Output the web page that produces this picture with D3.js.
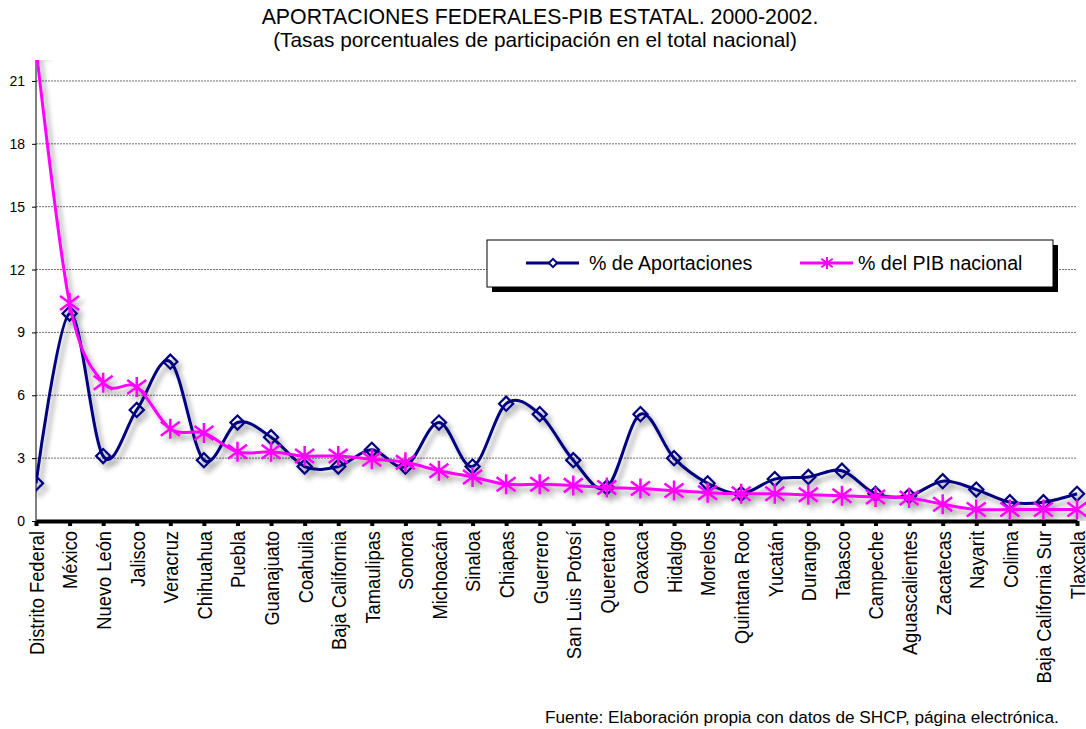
<!DOCTYPE html>
<html>
<head>
<meta charset="utf-8">
<script src="https://cdn.jsdelivr.net/npm/d3@7"></script>
<style>
  body { margin: 0; background: #fff; }
  svg { font-family: "Liberation Sans", Arial, sans-serif; }
</style>
</head>
<body>
<svg id="chart_svg" width="1086" height="729"></svg>
<script>
// states, ordered as in the original chart
const estados = ["Distrito Federal", "México", "Nuevo León", "Jalisco", "Veracruz", "Chihuahua",
  "Puebla", "Guanajuato", "Coahuila", "Baja California", "Tamaulipas", "Sonora", "Michoacán",
  "Sinaloa", "Chiapas", "Guerrero", "San Luis Potosí", "Queretaro", "Oaxaca", "Hidalgo",
  "Morelos", "Quintana Roo", "Yucatán", "Durango", "Tabasco", "Campeche", "Aguascalientes",
  "Zacatecas", "Nayarit", "Colima", "Baja California Sur", "Tlaxcala"];

// % de Aportaciones
const aportaciones = [1.8, 9.9, 3.1, 5.3, 7.6, 2.9, 4.7, 4.0, 2.6, 2.6, 3.4, 2.6, 4.7,
  2.6, 5.6, 5.1, 2.9, 1.6, 5.1, 3.0, 1.8, 1.3, 2.0, 2.1, 2.4, 1.3, 1.2, 1.9, 1.5, 0.9, 0.9, 1.3];

// % del PIB nacional
const pib = [22.6, 10.4, 6.6, 6.4, 4.4, 4.2, 3.3, 3.3, 3.1, 3.1, 2.95, 2.8, 2.4,
  2.1, 1.75, 1.75, 1.7, 1.6, 1.55, 1.45, 1.35, 1.3, 1.3, 1.25, 1.2, 1.15, 1.1,
  0.8, 0.55, 0.55, 0.55, 0.55];

const yTicks = [0, 3, 6, 9, 12, 15, 18, 21];

const titulo1 = "APORTACIONES FEDERALES-PIB ESTATAL. 2000-2002.";
const titulo2 = "(Tasas porcentuales de participación en el total nacional)";
const fuente = "Fuente: Elaboración propia con datos de SHCP, página electrónica.";
const leyenda = ["% de Aportaciones", "% del PIB nacional"];

const navy = "#000080";
const magenta = "#ff00ff";

const svg = d3.select("#chart_svg");

const plot = { left: 36, right: 1077, top: 60, bottom: 521 };

const xScale = d3.scalePoint()
  .domain(estados)
  .range([plot.left, plot.right])
  .padding(0);

const yScale = d3.scaleLinear()
  .domain([0, 22])
  .range([plot.bottom, plot.top]);

const defs = svg.append("defs");
defs.append("clipPath").attr("id", "clip_plot")
  .append("rect")
  .attr("x", plot.left).attr("y", plot.top)
  .attr("width", 1086 - plot.left).attr("height", plot.bottom - plot.top);

const shadow = defs.append("filter").attr("id", "shadow")
  .attr("x", "-5%").attr("y", "-5%").attr("width", "115%").attr("height", "120%");
shadow.append("feDropShadow")
  .attr("dx", 4).attr("dy", 5).attr("stdDeviation", 2.5)
  .attr("flood-color", "#000").attr("flood-opacity", 0.35);

// title
svg.append("text")
  .attr("x", 540).attr("y", 24)
  .attr("text-anchor", "middle")
  .attr("font-size", 21.3)
  .text(titulo1);
svg.append("text")
  .attr("x", 535).attr("y", 47)
  .attr("text-anchor", "middle")
  .attr("font-size", 20.8)
  .text(titulo2);

// gridlines
svg.append("g").attr("id", "g_grid")
  .selectAll("line")
  .data(yTicks.filter(d => d > 0))
  .enter()
  .append("line")
  .attr("x1", plot.left).attr("x2", plot.right)
  .attr("y1", d => yScale(d)).attr("y2", d => yScale(d))
  .attr("stroke", "#6e6e6e")
  .attr("stroke-width", 1)
  .attr("stroke-dasharray", "2,1");

// y axis
const y_axis = d3.axisLeft(yScale).tickValues(yTicks).tickSize(4).tickPadding(7);
const g_y = svg.append("g")
  .attr("transform", "translate(" + plot.left + ",0)")
  .call(y_axis);
g_y.select(".domain").attr("d", "M0," + plot.top + "V" + plot.bottom);
g_y.selectAll("text").attr("font-size", 14).attr("font-family", null).attr("fill", "#000");
g_y.selectAll("line").attr("stroke", "#000");

// x axis
const x_axis = d3.axisBottom(xScale).tickSize(5).tickSizeOuter(0).tickPadding(0);
const g_x = svg.append("g")
  .attr("transform", "translate(0," + plot.bottom + ")")
  .call(x_axis);
g_x.select(".domain").attr("stroke", "#000").attr("stroke-width", 4);
g_x.selectAll(".tick line").attr("stroke", "#000").attr("stroke-width", 4);
// the original labels are a little wider than they are long, so stretch them slightly
g_x.selectAll("text")
  .attr("font-size", 18.3)
  .attr("font-family", null)
  .attr("fill", "#000")
  .attr("text-anchor", "end")
  .attr("transform", "rotate(-90) scale(1,1.15)")
  .attr("x", -10)
  .attr("y", 0)
  .attr("dy", "0.35em");

// series
const line = d3.line()
  .x((d, i) => xScale(estados[i]))
  .y(d => yScale(d))
  .curve(d3.curveCatmullRom.alpha(0));

const diamond = d3.symbol().type(d3.symbolSquare).size(100);
const star = (r) => {
  const dx = r * 0.95, dy = r * 0.7;
  return "M0," + (-r) + "V" + r +
    "M" + (-dx) + "," + (-dy) + "L" + dx + "," + dy +
    "M" + (-dx) + "," + dy + "L" + dx + "," + (-dy);
};

const g_series = svg.append("g").attr("clip-path", "url(#clip_plot)")
  .append("g").attr("filter", "url(#shadow)");

g_series.append("path")
  .datum(aportaciones)
  .attr("fill", "none")
  .attr("stroke", navy)
  .attr("stroke-width", 3)
  .attr("d", line);

g_series.selectAll(".diamond")
  .data(aportaciones)
  .enter()
  .append("path")
  .attr("class", "diamond")
  .attr("d", diamond)
  .attr("transform", (d, i) => "translate(" + xScale(estados[i]) + "," + yScale(d) + ") rotate(45)")
  .attr("fill", "none")
  .attr("stroke", navy)
  .attr("stroke-width", 2.2);

g_series.append("path")
  .datum(pib)
  .attr("fill", "none")
  .attr("stroke", magenta)
  .attr("stroke-width", 3)
  .attr("d", line);

g_series.selectAll(".star")
  .data(pib)
  .enter()
  .append("path")
  .attr("class", "star")
  .attr("d", star(10))
  .attr("transform", (d, i) => "translate(" + xScale(estados[i]) + "," + yScale(d) + ")")
  .attr("fill", "none")
  .attr("stroke", magenta)
  .attr("stroke-width", 2.5);

// legend
const g_legend = svg.append("g").attr("id", "g_legend");
g_legend.append("rect")
  .attr("x", 492).attr("y", 245).attr("width", 566).attr("height", 47)
  .attr("fill", "#000");
g_legend.append("rect")
  .attr("x", 487).attr("y", 240).attr("width", 566).attr("height", 47)
  .attr("fill", "#fff").attr("stroke", "#000").attr("stroke-width", 1);

const legendItems = [
  { label: leyenda[0], color: navy, x: 526, text_x: 589, marker: "diamond" },
  { label: leyenda[1], color: magenta, x: 800, text_x: 858, marker: "star" }
];
legendItems.forEach(item => {
  g_legend.append("line")
    .attr("x1", item.x).attr("x2", item.x + 53)
    .attr("y1", 263).attr("y2", 263)
    .attr("stroke", item.color).attr("stroke-width", 2.8);
  const cx = item.x + 27;
  if (item.marker === "diamond") {
    g_legend.append("path")
      .attr("d", d3.symbol().type(d3.symbolSquare).size(34))
      .attr("transform", "translate(" + cx + ",263) rotate(45)")
      .attr("fill", "#fff").attr("stroke", item.color).attr("stroke-width", 2);
  } else {
    g_legend.append("path")
      .attr("d", star(6))
      .attr("transform", "translate(" + cx + ",263)")
      .attr("fill", "none").attr("stroke", item.color).attr("stroke-width", 2);
  }
  g_legend.append("text")
    .attr("x", item.text_x).attr("y", 270)
    .attr("font-size", 19.6)
    .text(item.label);
});

// source note
svg.append("text")
  .attr("x", 545).attr("y", 723)
  .attr("font-size", 17.2)
  .text(fuente);
</script>
</body>
</html>
